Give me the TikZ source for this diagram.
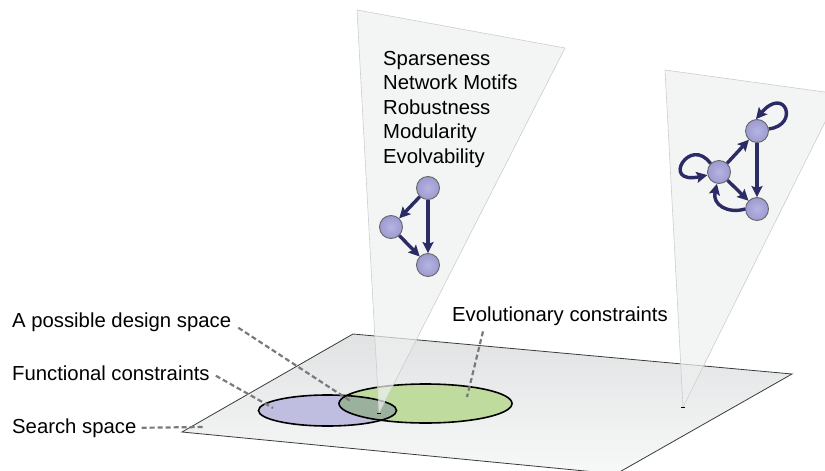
\documentclass[tikz,border=0pt]{standalone}
\usepackage{fontspec}
\setmainfont{Liberation Sans}
\usepackage{tikz}
\usetikzlibrary{arrows.meta, positioning, calc}
\usepackage{xcolor}
\definecolor{planetop}{HTML}{E1E2E3}
\definecolor{planebot}{HTML}{F7F8F8}
\definecolor{planeedge}{HTML}{3A3A3A}
\definecolor{beamfill}{HTML}{EEF0F0}
\definecolor{beamedge}{HTML}{CDCECF}
\definecolor{funcpurple}{HTML}{C0BEE0}
\definecolor{evogreen}{HTML}{BFDB9D}
\definecolor{overlapgreen}{HTML}{9BB09D}
\definecolor{netnavy}{HTML}{2B2B66}
\definecolor{nodein}{HTML}{B6B4E2}
\definecolor{nodeout}{HTML}{9C9AD0}
\definecolor{leadergray}{HTML}{7A7A7A}

\begin{document}
\begin{tikzpicture}[
    x=1pt, y=-1pt,
    every node/.style={font=\fontsize{20.3}{24.5}\selectfont},
    beam/.style={fill=beamfill, fill opacity=0.72, draw=beamedge, line width=0.6pt},
    netnode/.style={circle, draw=gray!80!black, line width=0.9pt, inner color=nodein, outer color=nodeout, minimum size=23pt, inner sep=0pt},
    netarrow/.style={-{Stealth[length=11pt, width=11pt, inset=2pt]}, line width=3.4pt, netnavy},
    leader/.style={leadergray, line width=2.2pt, dash pattern=on 5pt off 3pt},
    sidetext/.style={anchor=base west, inner sep=0pt}
]
    \useasboundingbox (0,0) rectangle (825,471);
    \clip (0,0) rectangle (825,471);

    % search space
    \shadedraw[top color=planetop, bottom color=planebot, draw=planeedge, line width=0.8pt]
        (182,432) -- (353,334) -- (792,374) -- (616,474) -- cycle;

    % constraints
    \fill[funcpurple] (327.5,410.5) ellipse [x radius=69pt, y radius=15.5pt];
    \fill[evogreen] (425.5,403.5) ellipse [x radius=86.5pt, y radius=19.5pt];
    \begin{scope}
        \clip (327.5,410.5) ellipse [x radius=69pt, y radius=15.5pt];
        \fill[overlapgreen] (425.5,403.5) ellipse [x radius=86.5pt, y radius=19.5pt];
    \end{scope}
    \draw[line width=1.6pt] (327.5,410.5) ellipse [x radius=69pt, y radius=15.5pt];
    \draw[line width=1.6pt] (425.5,403.5) ellipse [x radius=86.5pt, y radius=19.5pt];

    % beams
    \filldraw[beam] (357,10) -- (565,48) -- (379,413) -- cycle;
    \filldraw[beam] (665,70) -- (839,94) -- (683,407) -- cycle;
    \draw[line width=1pt] (376.5,413) -- (380.5,413);
    \draw[line width=1pt] (681,407) -- (685,407);

    % properties
    \foreach \prop [count=\i] in {Sparseness, Network Motifs, Robustness, Modularity, Evolvability}
        \node[sidetext] (prop\i) at (383,{65+24.5*(\i-1)}) {\prop};

    % small network
    \node[netnode] (a1) at (428,188) {};
    \node[netnode] (b1) at (391,227) {};
    \node[netnode] (c1) at (428,265) {};
    \draw[netarrow] (a1) -- (b1);
    \draw[netarrow] (b1) -- (c1);
    \draw[netarrow] (a1) -- (c1);

    % network with loops
    \node[netnode] (top2) at (757,131) {};
    \node[netnode] (left2) at (719,172) {};
    \node[netnode] (bot2) at (757,209) {};
    \draw[netarrow] (left2) -- (top2);
    \draw[netarrow] (top2) -- (bot2);
    \draw[netarrow] (left2) -- (bot2);
    \draw[netarrow] (bot2.180) .. controls (728,214) and (712,205) .. (left2.-100);
    \draw[netarrow] (left2.135) .. controls (690,135) and (660,185) .. (left2.195);
    \draw[netarrow] (top2.10) .. controls (800,125) and (785,85) .. (top2.95);

    % labels
    \node[sidetext] (designlbl) at (12,327) {A possible design space};
    \node[sidetext] (funclbl) at (12,380) {Functional constraints};
    \node[sidetext] (searchlbl) at (12,433) {Search space};
    \node[sidetext] (evolbl) at (452,321) {Evolutionary constraints};

    \coordinate (designend) at (352,402);
    \coordinate (funcend) at (273,408);
    \coordinate (searchend) at (204,427);
    \coordinate (evoend) at (467,397);

    \draw[leader] ([shift={(7pt,-6pt)}]designlbl.east) -- (designend);
    \draw[leader] ([shift={(6pt,-3pt)}]funclbl.east) -- (funcend);
    \draw[leader] ([shift={(5pt,0pt)}]searchlbl.east) -- (searchend);
    \draw[leader] ([shift={(31pt,-6pt)}]evolbl.south west) -- (evoend);
\end{tikzpicture}
\end{document}
